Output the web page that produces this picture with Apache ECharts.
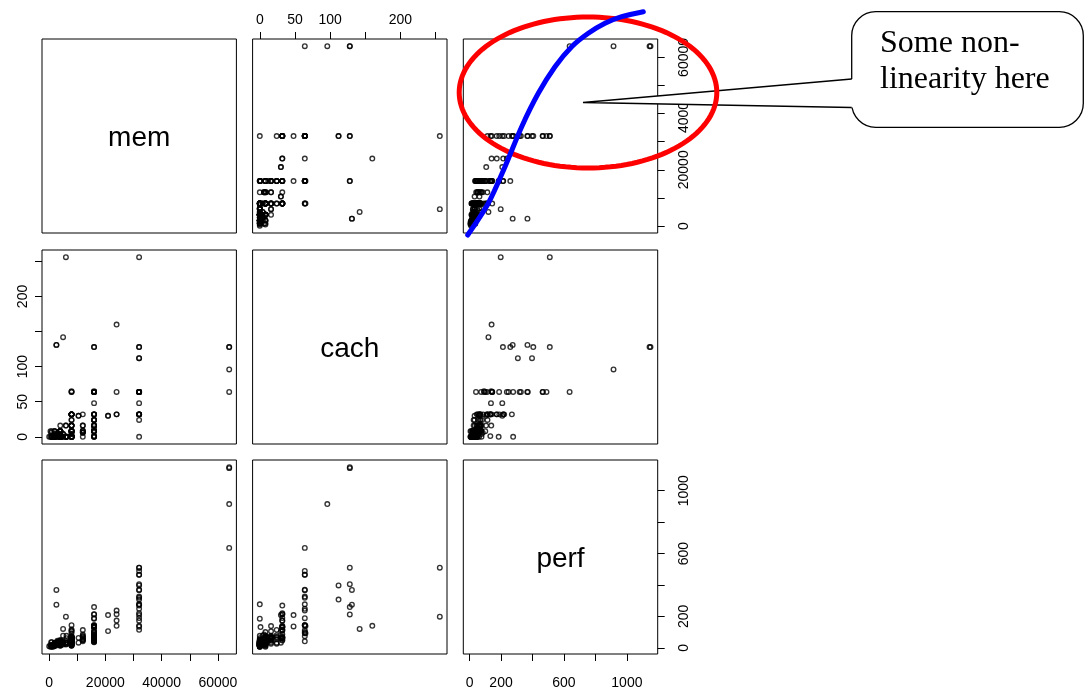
<!DOCTYPE html>
<html><head><meta charset="utf-8">
<script src="https://cdn.jsdelivr.net/npm/echarts@6/dist/echarts.min.js"></script>
<style>html,body{margin:0;padding:0;background:#fff}#c{width:1088px;height:692px}</style>
</head><body><div id="c"></div>
<script>
// ---- data (cpus: mmax = mem, cach, perf) ----
const varNames = ['mem', 'cach', 'perf'];
const mem = [6000,32000,32000,32000,16000,32000,32000,32000,64000,64000,3000,3500,8000,16000,64,16000,2000,5000,2000,5000,
6300,6200,6200,6200,6000,2000,6000,3000,5000,5000,2620,2620,10480,10480,20970,20970,2000,4000,8000,4000,
8000,16000,16000,16000,12000,8000,512,5000,8000,8000,8000,2000,16000,8000,4000,12000,8000,8000,8000,8000,
8000,8000,1000,8000,16000,16000,1000,2000,4000,4000,8000,8000,2000,3000,3000,12000,4500,12000,768,12000,
3000,4000,16000,2000,4000,4000,4000,4000,32000,8000,32000,32000,4000,16000,24000,32000,32000,32000,16000,512,
2000,6000,1500,2000,2000,4000,8000,1000,1000,4000,4000,4000,4000,4000,8000,16000,16000,4000,12000,12000,
16000,16000,1000,2000,2000,4000,8000,8000,16000,16000,16000,8000,8000,8000,16000,16000,16000,4000,8000,4000,
8000,8000,8000,16000,16000,16000,16000,16000,16000,8000,16000,32000,32000,32000,24000,32000,32000,1000,2000,4000,
6000,8000,8000,12000,16000,8000,8000,16000,24000,16000,2000,4000,8000,4000,4000,16000,4000,2000,4000,8000,
8000,1000,2000,4000,6000,8000,16000,12000,12000,16000,24000,32000,32000,8000,32000,32000,32000,32000,64000,64000,
4000,4000,4000,4000,8000,8000,8000,8000,4000];
const cach = [256,32,32,32,32,64,64,64,64,128,0,4,65,65,0,0,8,0,0,142,
0,0,0,0,0,4,0,4,4,4,131,131,30,30,30,30,8,8,8,8,
8,8,8,8,9,9,8,0,4,8,0,0,16,0,16,16,16,0,0,0,
0,0,0,64,64,128,0,0,0,8,8,8,0,0,6,6,0,6,6,6,
0,8,8,0,0,0,0,8,32,32,32,32,8,1,64,64,64,0,0,0,
0,16,0,0,0,0,0,0,0,4,8,0,8,8,8,16,16,2,8,16,
8,32,0,0,0,0,8,8,24,24,48,0,24,24,12,24,24,0,16,2,
32,32,4,16,32,64,64,64,64,16,32,64,64,128,32,64,256,0,0,0,
0,0,0,0,0,32,32,64,160,128,0,0,64,0,0,1,2,2,8,16,
32,8,8,8,16,16,32,8,32,64,32,64,128,32,24,48,112,112,96,128,
0,0,0,0,0,32,0,32,0];
const perf = [198,269,220,172,132,318,367,489,636,1144,38,40,92,138,10,35,19,28,31,120,
30,33,61,76,23,25,33,27,77,27,274,368,32,63,106,208,20,29,71,26,
36,40,52,60,72,72,18,20,40,62,24,24,138,36,26,60,71,12,14,20,
16,22,36,144,144,259,17,26,32,32,62,64,22,36,44,50,45,53,36,84,
16,38,38,16,22,29,40,35,134,66,141,189,22,132,237,465,465,277,185,6,
24,45,7,13,16,32,32,11,11,18,22,37,40,34,50,76,66,24,49,66,
100,133,12,18,20,27,45,56,70,80,136,16,26,32,45,54,65,30,50,40,
62,60,50,66,86,74,93,111,143,105,214,277,370,510,214,326,510,8,12,17,
21,24,34,42,46,51,116,100,140,212,25,30,41,25,50,50,30,32,38,60,
109,6,11,22,33,58,130,75,113,188,173,248,405,70,114,208,307,397,915,1150,
12,14,18,21,42,46,52,67,45];
const columns = [mem, cach, perf];

// tick positions and printed labels per variable
const memTicks = [0,10000,20000,30000,40000,50000,60000];
const memLabels = [0,20000,40000,60000];
const cachTicks = [0,50,100,150,200,250];
const cachLabels = [0,50,100,200];
const perfTicks = [0,200,400,600,800,1000];
const perfLabels = [0,200,600,1000];
const tickSets = [memTicks, cachTicks, perfTicks];
const labelSets = [memLabels, cachLabels, perfLabels];

const calloutLines = ['Some non-', 'linearity here'];

// ---- layout ----
const colLeft = [42, 252.6, 463.3], panelW = 194.4;
const rowTop = [39, 250, 460], panelH = 194;
const FONT = '"Liberation Sans", Arial, sans-serif';

function ext(a) {
  let lo = Math.min(...a), hi = Math.max(...a), s = hi - lo;
  return [lo - 0.04 * s, hi + 0.04 * s];
}
const ranges = columns.map(ext);

const grid = [], xAxis = [], yAxis = [], series = [];
for (let r = 0; r < 3; r++) {
  for (let c = 0; c < 3; c++) {
    const gi = r * 3 + c;
    grid.push({left: colLeft[c], top: rowTop[r], width: panelW, height: panelH,
      show: true, borderColor: '#000', borderWidth: 1, backgroundColor: 'rgba(0,0,0,0)',
      containLabel: false});
    let xPos = 'bottom', xShow = false, yPos = 'left', yShow = false;
    if (r === 2 && (c === 0 || c === 2)) { xShow = true; xPos = 'bottom'; }
    if (r === 0 && c === 1) { xShow = true; xPos = 'top'; }
    if (c === 0 && r === 1) { yShow = true; yPos = 'left'; }
    if (c === 2 && (r === 0 || r === 2)) { yShow = true; yPos = 'right'; }
    const mk = (v, isY, pos, show) => ({
      type: 'value', gridIndex: gi, min: ranges[v][0], max: ranges[v][1], position: pos,
      show: true,
      axisLine: {show: false, onZero: false}, splitLine: {show: false},
      axisTick: {show: show, length: 7, inside: false, lineStyle: {color: '#000', width: 1}, customValues: tickSets[v]},
      axisLabel: {show: show, customValues: labelSets[v], color: '#000', fontFamily: FONT, fontSize: 14,
        rotate: isY ? 90 : 0,
        margin: isY ? (pos === 'left' ? 11.5 : 19.5) : (pos === 'top' ? 12 : 22),
        formatter: (val) => String(val)}
    });
    xAxis.push(mk(c, false, xPos, xShow));
    yAxis.push(mk(r, true, yPos, yShow));
    if (r !== c) {
      const xs = columns[c], ys = columns[r];
      series.push({type: 'scatter', xAxisIndex: gi, yAxisIndex: gi, symbol: 'circle', symbolSize: 4.6,
        silent: true, animation: false,
        itemStyle: {color: 'rgba(0,0,0,0)', borderColor: '#000', borderWidth: 1.35},
        data: xs.map((x, i) => [x, ys[i]])});
    }
  }
}

const graphic = [];
for (let k = 0; k < 3; k++) {
  graphic.push({type: 'text', silent: true, z: 10,
    style: {text: varNames[k], x: colLeft[k] + panelW / 2, y: rowTop[k] + panelH / 2 + 2,
      fontSize: 28, fontFamily: FONT, fill: '#000', align: 'center', verticalAlign: 'middle'}});
}
// callout box
const bx0 = 851.7, bx1 = 1083.3, by0 = 11.7, by1 = 127.3, br = 24;
const wa = 79, wb = 107.5, tipX = 583, tipY = 102.5;
graphic.push({type: 'rect', silent: true, z: 20,
  shape: {x: bx0, y: by0, width: bx1 - bx0, height: by1 - by0, r: br},
  style: {fill: '#fff', stroke: '#000', lineWidth: 1.3}});
graphic.push({type: 'polygon', silent: true, z: 21,
  shape: {points: [[bx0 + 1.5, wa], [tipX, tipY], [bx0 + 1.5, wb]]},
  style: {fill: '#fff', stroke: null}});
graphic.push({type: 'polyline', silent: true, z: 22,
  shape: {points: [[bx0, wa], [tipX, tipY], [bx0, wb]]},
  style: {fill: null, stroke: '#000', lineWidth: 1.3}});
graphic.push({type: 'text', silent: true, z: 23,
  style: {text: calloutLines[0], x: 880, y: 44, fontSize: 32, fontFamily: '"Liberation Serif", "Times New Roman", serif', fill: '#000', verticalAlign: 'middle'}});
graphic.push({type: 'text', silent: true, z: 23,
  style: {text: calloutLines[1], x: 880, y: 80, fontSize: 32, fontFamily: '"Liberation Serif", "Times New Roman", serif', fill: '#000', verticalAlign: 'middle'}});
// red ellipse (sampled outline)
const ecx = 588, ecy = 92.5, erx = 128.8, ery = 75.5, ellPts = [];
for (let i = 0; i < 144; i++) { const t = i / 144 * 2 * Math.PI; ellPts.push([ecx + erx * Math.cos(t), ecy + ery * Math.sin(t)]); }
graphic.push({type: 'polygon', silent: true, z: 25, shape: {points: ellPts},
  style: {fill: null, stroke: '#ff0000', lineWidth: 5}});
// blue curve
graphic.push({type: 'polyline', silent: true, z: 26,
  shape: {points: [[467.7,235],[488.3,203.3],[505,166.7],[521.7,126.7],[538.3,93.3],[555,66.7],[571.7,46.7],[588.3,33.3],[605,23.3],[621.7,16.7],[643.3,11.7]], smooth: 0.3},
  style: {fill: null, stroke: '#0000ff', lineWidth: 5, lineCap: 'round'}});

const chart = echarts.init(document.getElementById('c'), null, {renderer: 'canvas'});
chart.setOption({animation: false, backgroundColor: '#fff', grid, xAxis, yAxis, series, graphic});
</script></body></html>
